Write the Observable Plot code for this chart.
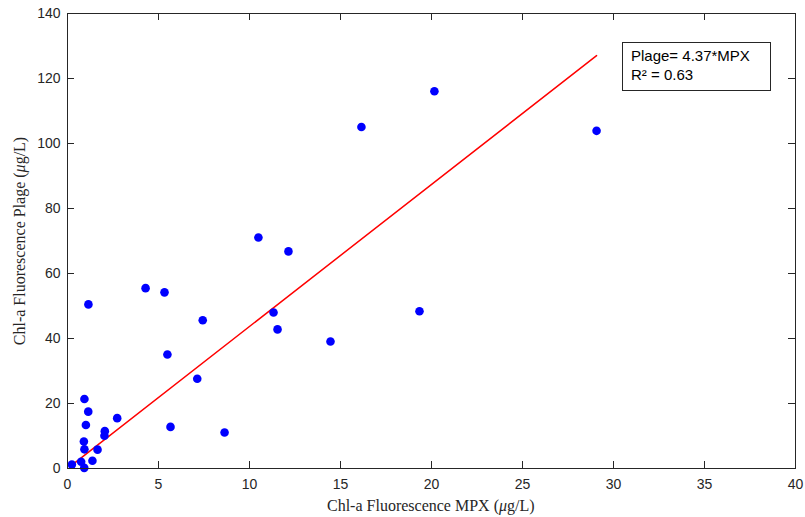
<!DOCTYPE html>
<html>
<head>
<meta charset="utf-8">
<script src="https://cdn.jsdelivr.net/npm/d3@7"></script>
<script src="https://cdn.jsdelivr.net/npm/@observablehq/plot@0.6"></script>
<style>
  html, body { margin: 0; padding: 0; background: #fff; }
  #wrap { position: relative; width: 805px; height: 517px; }
  .title { position: absolute; font-family: "Liberation Serif", "Times New Roman", serif; font-size: 16px; color: #262626; white-space: nowrap; }
  #legend { position: absolute; left: 622px; top: 42px; width: 149px; height: 49px; border: 1px solid #262626; background: #fff;
            font-family: "Liberation Sans", Arial, sans-serif; font-size: 15px; color: #000; box-sizing: border-box; padding: 3px 0 0 8px; line-height: 19px; }
</style>
</head>
<body>
<div id="wrap"></div>
<script>
const mpx = [20.16, 29.07, 16.15, 10.49, 12.14, 4.29, 5.33, 1.15, 7.43, 11.32, 11.54, 14.45, 19.34, 5.49, 7.13,
             0.93, 1.14, 2.73, 1.01, 5.66, 2.05, 2.03, 8.63, 0.90, 0.93, 1.65, 1.37, 0.75, 0.24, 0.92];
const plage = [116.1, 103.9, 105.1, 71.1, 66.8, 55.5, 54.2, 50.5, 45.6, 48.0, 42.8, 39.1, 48.4, 35.1, 27.6,
               21.4, 17.5, 15.5, 13.4, 12.8, 11.5, 10.1, 11.1, 8.3, 5.9, 5.8, 2.4, 2.1, 1.2, 0.2];
const slope = 4.37;
const xTicks = [0, 5, 10, 15, 20, 25, 30, 35, 40];
const yTicks = [0, 20, 40, 60, 80, 100, 120, 140];

const points = mpx.map((x, i) => ({x, y: plage[i]}));
const xMin = d3.min(mpx), xMax = d3.max(mpx);
const fit = [xMin, xMax].map(x => ({x, y: slope * x}));

const W = 805, H = 517, mL = 67, mR = 10, mT = 13, mB = 49;
const pw = W - mL - mR, ph = H - mT - mB;
const axisColor = "#262626";

const chart = Plot.plot({
  width: W, height: H,
  marginLeft: mL, marginRight: mR, marginTop: mT, marginBottom: mB,
  style: {fontFamily: "'Liberation Sans', Arial, sans-serif", fontSize: "14px", color: axisColor, background: "#fff"},
  x: {domain: [0, 40]},
  y: {domain: [0, 140]},
  marks: [
    Plot.line(fit, {x: "x", y: "y", stroke: "#ff0000", strokeWidth: 1.5}),
    Plot.dot(points, {x: "x", y: "y", r: 4.3, fill: "#0000ff", stroke: "none"}),
    Plot.tickX(xTicks, {x: d => d, stroke: axisColor, insetTop: ph - 7}),
    Plot.tickX(xTicks, {x: d => d, stroke: axisColor, insetBottom: ph - 7}),
    Plot.tickY(yTicks, {y: d => d, stroke: axisColor, insetRight: pw - 7}),
    Plot.tickY(yTicks, {y: d => d, stroke: axisColor, insetLeft: pw - 7}),
    Plot.frame({stroke: axisColor, strokeWidth: 1}),
    Plot.axisX(xTicks, {tickSize: 0, tickPadding: 11, label: null, fontSize: 14}),
    Plot.axisY(yTicks, {tickSize: 0, tickPadding: 7, label: null, fontSize: 14})
  ]
});

const wrap = document.getElementById("wrap");
wrap.appendChild(chart);

const xt = document.createElement("div");
xt.className = "title";
xt.innerHTML = "Chl-a Fluorescence MPX (<i>μ</i>g/L)";
wrap.appendChild(xt);
xt.style.left = (mL + pw / 2 - xt.offsetWidth / 2) + "px";
xt.style.top = "497px";

const yt = document.createElement("div");
yt.className = "title";
yt.innerHTML = "Chl-a Fluorescence Plage (<i>μ</i>g/L)";
wrap.appendChild(yt);
const yw = yt.offsetWidth, yh = yt.offsetHeight;
yt.style.left = (20 - yw / 2) + "px";
yt.style.top = (mT + ph / 2 - yh / 2) + "px";
yt.style.transform = "rotate(-90deg)";

const lg = document.createElement("div");
lg.id = "legend";
lg.innerHTML = "Plage= 4.37*MPX<br>R² = 0.63";
wrap.appendChild(lg);
</script>
</body>
</html>
